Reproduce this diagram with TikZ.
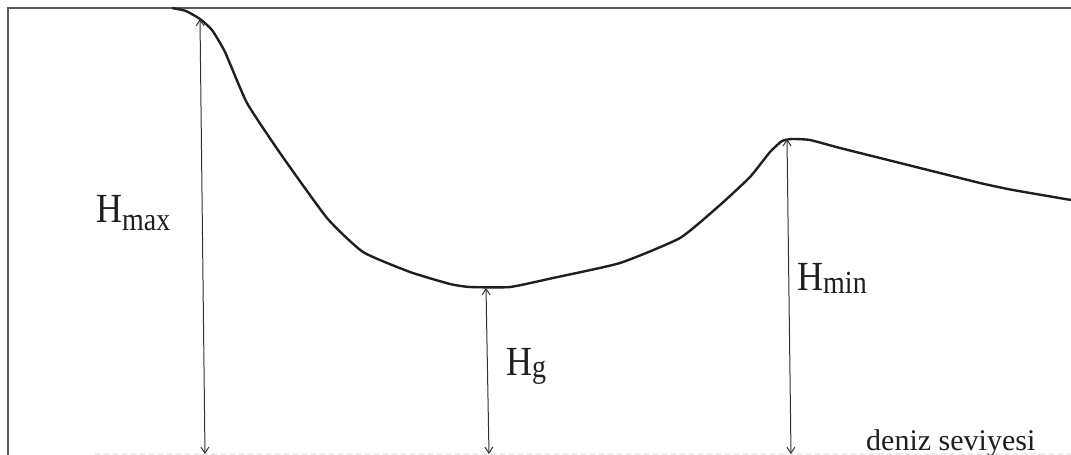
\documentclass[tikz,border=0pt]{standalone}
\usepackage{fontspec}
\setmainfont{Liberation Serif}
\usetikzlibrary{arrows.meta}
\newcommand{\bigH}[2]{\scalebox{1}[1.15]{\fontsize{36}{36}\selectfont H\raisebox{#2}{\fontsize{28}{28}\selectfont #1}}}
\begin{document}
\begin{tikzpicture}[x=1pt,y=-1pt,
  frame/.style={line width=1.6pt,draw=black!65},
  terrain/.style={line width=2.4pt,draw=black!88,line join=round},
  meas/.style={line width=1pt,draw=black!80,{Straight Barb[length=6pt,width=8pt]}-{Straight Barb[length=6pt,width=8pt]}},
  sea/.style={line width=1.2pt,draw=black!8,dash pattern=on 5pt off 4pt},
  lbl/.style={inner sep=0pt,anchor=base west,text=black!88}]
\useasboundingbox (0,0) rectangle (1071,455);
\fill[white] (0,0) rectangle (1071,455);
% frame
\draw[frame] (8,455) -- (8,8) -- (1071,8);
% sea level
\draw[sea] (95,454) -- (1071,454);
% terrain
\draw[terrain] plot[smooth,tension=0.3] coordinates {
 (172,8) (186,11) (200,19) (212,30) (225,52) (247,103) (280,153) (327,218) (363,252)
 (410,272) (450,284) (470,287) (510,287) (553,278) (620,263) (680,238) (720,205)
 (750,177) (770,152) (782,141) (792,139) (810,140) (840,148) (900,163) (980,183)
 (1013,190) (1071,200)};
% measurement points
\coordinate (maxtop) at (200,19);
\coordinate (maxbot) at (205,454);
\coordinate (gtop) at (486,288);
\coordinate (gbot) at (489,454);
\coordinate (mintop) at (787,139);
\coordinate (minbot) at (791,454);
\draw[meas] (maxtop) -- (maxbot);
\draw[meas] (gtop) -- (gbot);
\draw[meas] (mintop) -- (minbot);
% labels
\node[lbl] (hmax) at (96,222) {\bigH{max}{-7pt}};
\node[lbl] (hg) at (506,375) {\bigH{g}{-2pt}};
\node[lbl] (hmin) at (797,290) {\bigH{min}{-3pt}};
\node[lbl] (sealbl) at (866,450) {\fontsize{30}{30}\selectfont deniz seviyesi};
\end{tikzpicture}
\end{document}
